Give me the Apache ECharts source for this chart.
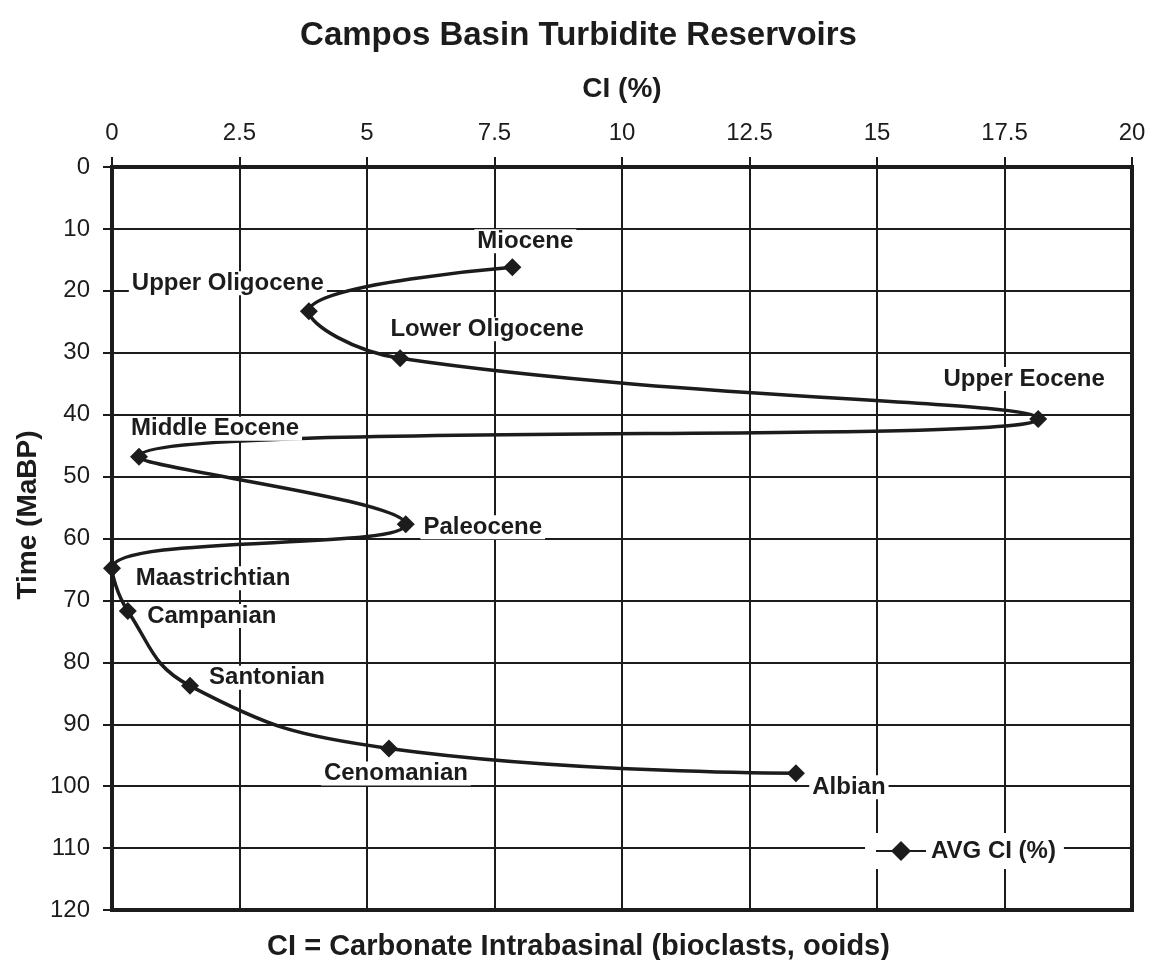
<!DOCTYPE html>
<html>
<head>
<meta charset="utf-8">
<script src="https://cdn.jsdelivr.net/npm/echarts@6/dist/echarts.min.js"></script>
<style>
  html, body { margin: 0; padding: 0; background: #fff; }
  #chart { width: 1157px; height: 960px; }
</style>
</head>
<body>
<div id="chart"></div>
<script>
// Stratigraphic intervals, from youngest to oldest
const intervals = ['Miocene', 'Upper Oligocene', 'Lower Oligocene', 'Upper Eocene', 'Middle Eocene',
  'Paleocene', 'Maastrichtian', 'Campanian', 'Santonian', 'Cenomanian', 'Albian'];
// Average carbonate intrabasinal content (%)
const avgCI = [7.85, 3.86, 5.65, 18.16, 0.53, 5.76, 0.0, 0.31, 1.53, 5.43, 13.41];
// Age of each interval (Ma before present)
const ageMa = [16.2, 23.3, 30.9, 40.7, 46.8, 57.7, 64.8, 71.7, 83.8, 93.9, 97.9];

// Label placement for each interval, relative to its marker
const labelOffsets = {
  'Miocene': [13, -26],
  'Upper Oligocene': [-81, -28],
  'Lower Oligocene': [87, -29],
  'Upper Eocene': [-14, -40],
  'Middle Eocene': [76, -28],
  'Paleocene': [77, 3],
  'Maastrichtian': [101, 10],
  'Campanian': [84, 5],
  'Santonian': [77, -8],
  'Cenomanian': [7, 25],
  'Albian': [53, 14]
};

const FONT = '"Liberation Sans", Arial, sans-serif';
const INK = '#1c1c1c';

const points = intervals.map((name, i) => ({
  name: name,
  value: [avgCI[i], ageMa[i]],
  label: {
    show: true,
    position: 'inside',
    offset: labelOffsets[name],
    formatter: name,
    color: INK,
    fontFamily: FONT,
    fontWeight: 'bold',
    fontSize: 24,
    backgroundColor: '#fff',
    padding: [0, 3]
  }
}));

const chart = echarts.init(document.getElementById('chart'), null, { renderer: 'canvas' });
chart.setOption({
  backgroundColor: '#fff',
  animation: false,
  textStyle: { fontFamily: FONT },
  title: [
    {
      text: 'Campos Basin Turbidite Reservoirs',
      left: 'center', top: 14,
      textStyle: { fontFamily: FONT, fontWeight: 'bold', fontSize: 33, color: INK }
    },
    {
      text: 'CI = Carbonate Intrabasinal (bioclasts, ooids)',
      left: 'center', top: 927,
      textStyle: { fontFamily: FONT, fontWeight: 'bold', fontSize: 29, color: INK }
    }
  ],
  graphic: [{
    type: 'text',
    x: 28, y: 515,
    rotation: Math.PI / 2,
    style: {
      text: 'Time (MaBP)',
      font: 'bold 28px ' + FONT,
      fill: INK,
      align: 'center',
      verticalAlign: 'middle'
    }
  }],
  grid: {
    left: 112, right: 25, top: 167, bottom: 50,
    show: true, borderColor: INK, borderWidth: 4, backgroundColor: 'transparent'
  },
  legend: {
    data: ['AVG CI (%)'],
    left: 865, top: 833,
    backgroundColor: '#fff',
    padding: [6, 8, 6, 10],
    itemWidth: 50, itemHeight: 25,
    textStyle: { fontFamily: FONT, fontWeight: 'bold', fontSize: 24, color: INK }
  },
  xAxis: {
    type: 'value',
    position: 'top',
    min: 0, max: 20, interval: 2.5,
    name: 'CI (%)',
    nameLocation: 'middle',
    nameGap: 64,
    nameTextStyle: { fontFamily: FONT, fontWeight: 'bold', fontSize: 28, color: INK },
    axisLine: { show: true, lineStyle: { color: INK, width: 4 } },
    axisTick: { show: true, length: 10, lineStyle: { color: INK, width: 2 } },
    axisLabel: { fontFamily: FONT, fontSize: 24, color: INK, margin: 22 },
    splitLine: { show: true, lineStyle: { color: INK, width: 2 } }
  },
  yAxis: {
    type: 'value',
    inverse: true,
    min: 0, max: 120, interval: 10,
    axisLine: { show: true, lineStyle: { color: INK, width: 4 } },
    axisTick: { show: true, length: 9, lineStyle: { color: INK, width: 2 } },
    axisLabel: { fontFamily: FONT, fontSize: 24, color: INK, margin: 22 },
    splitLine: { show: true, lineStyle: { color: INK, width: 2 } }
  },
  series: [{
    name: 'AVG CI (%)',
    type: 'line',
    smooth: 0.45,
    symbol: 'diamond',
    symbolSize: 18,
    itemStyle: { color: INK },
    lineStyle: { color: INK, width: 3.5 },
    data: points,
    z: 5
  }]
});
</script>
</body>
</html>
